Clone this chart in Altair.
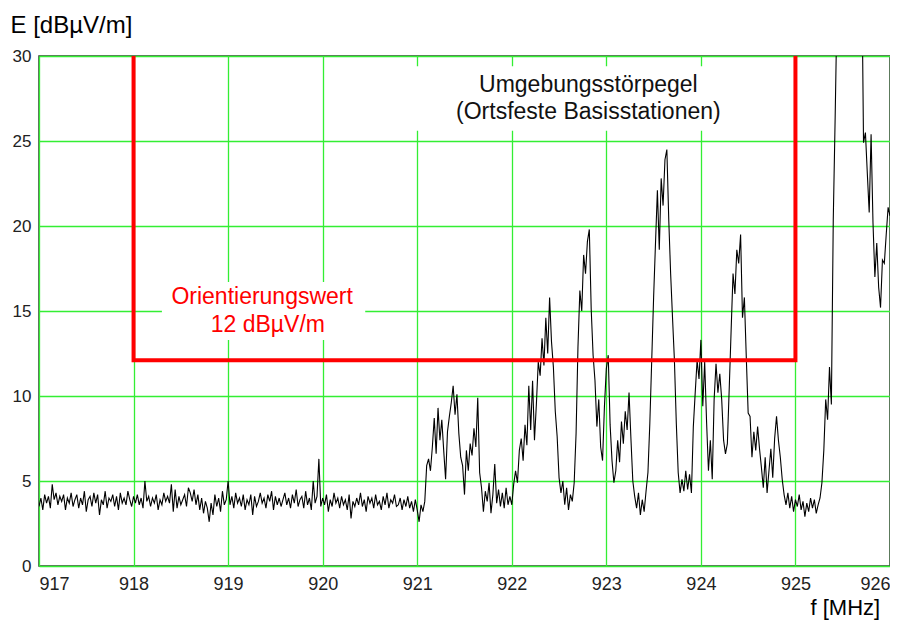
import altair as alt
import pandas as pd

# Measured field strength, 917.00 ... 926.00 MHz in 0.02 MHz steps
noise = [
    3.5, 4.0, 3.3, 4.2, 3.7, 4.1, 3.4, 4.8, 3.9, 4.3,
    3.6, 4.1, 3.8, 4.2, 3.3, 4.0, 3.7, 4.3, 3.5, 3.9,
    4.2, 3.4, 4.0, 3.6, 4.4, 3.2, 3.9, 4.1, 3.5, 4.3,
    3.7, 4.2, 3.0, 3.9, 3.6, 4.4, 3.4, 4.0, 3.8, 4.2,
    3.5, 4.1, 3.3, 4.3, 3.7, 4.0, 3.6, 4.4, 3.9, 3.5,
    4.1, 3.7, 4.2, 3.6, 4.0, 3.4, 5.0, 3.8, 4.1, 3.5,
    4.0, 3.7, 4.2, 3.3, 3.9, 3.6, 4.3, 3.8, 4.1, 3.7,
    4.8, 3.2, 4.5, 3.4, 4.1, 3.6, 3.9, 4.2, 3.5, 4.6,
    4.3, 3.8, 4.5, 3.6, 4.2, 3.3, 4.0, 3.1, 3.8, 3.4,
    2.6, 3.7, 3.0, 4.2, 3.5, 4.0, 3.2, 4.4, 3.6, 3.9,
    5.0, 3.6, 4.1, 3.4, 4.3, 3.7, 4.0, 3.5, 4.2, 3.3,
    3.9, 3.6, 4.2, 3.0, 4.1, 3.5, 3.8, 4.3, 3.7, 4.0,
    3.4, 4.2, 3.8, 4.4, 3.3, 4.1, 3.6, 4.0, 3.5, 3.9,
    4.3, 3.6, 4.0, 3.4, 4.2, 3.7, 4.5, 3.5, 3.9, 4.1,
    3.4, 4.4, 3.6, 4.0, 3.3, 5.0, 3.7, 4.1, 6.3, 3.5,
    4.0, 3.6, 4.2, 3.2, 3.9, 3.5, 4.3, 3.7, 4.0, 3.4,
    4.1, 3.6, 3.9, 3.3, 4.2, 2.8, 3.8, 3.5, 4.0, 3.6,
    4.3, 3.5, 3.9, 3.2, 4.1, 3.7, 4.0, 3.4, 4.2, 3.6,
    3.8, 3.3, 4.1, 3.6, 4.3, 3.4, 3.9, 3.7, 4.2, 3.5,
    3.6, 4.0, 3.3, 3.9, 3.5, 4.1, 3.4, 3.8, 3.2, 3.9,
    3.3, 2.6, 3.6, 3.2, 3.8,
]
signal = [
    5.9, 6.3, 5.6, 7.0, 8.7, 6.6, 9.3, 7.4, 8.6, 6.8,
    5.1, 7.9, 8.8, 9.6, 10.6, 8.9, 10.1, 7.8, 6.4, 5.9,
    4.2, 6.8, 5.6, 7.2, 6.5, 8.1, 7.0, 9.9, 5.5, 4.6,
    3.2, 4.4, 3.8, 4.9, 3.1, 4.2, 6.0, 3.7, 4.5, 3.5,
    4.3, 3.4, 4.6, 3.6, 4.1, 3.6, 4.8, 5.6, 4.9, 6.8,
    7.5, 6.2, 8.3, 7.1, 10.6, 8.0, 10.9, 7.4, 9.5, 12.0,
    11.2, 13.4, 11.8, 14.6, 12.5, 15.8, 13.2, 11.7, 9.1, 7.6,
    5.2, 4.3, 5.0, 3.6, 4.6, 3.3, 4.2, 3.8, 4.9, 7.8,
    12.9, 16.2, 15.0, 18.3, 17.2, 19.1, 19.8, 15.1, 12.4, 10.9,
    8.2, 9.8, 7.0, 6.2, 9.4, 11.6, 12.4, 8.3, 6.2, 4.9,
    5.6, 7.4, 6.1, 8.5, 7.2, 9.1, 8.0, 10.2, 7.5, 5.0,
    4.1, 3.4, 4.3, 3.0, 3.9, 3.2, 4.4, 5.5, 8.4, 12.1,
    15.8, 19.0, 22.1, 18.6, 22.8, 21.2, 23.9, 24.5, 20.4, 17.2,
    14.6, 12.1, 8.4, 5.5, 4.3, 5.1, 4.4, 5.6, 4.5, 5.4,
    4.3, 8.2, 10.2, 12.1, 11.0, 13.3, 9.4, 12.0, 8.5, 5.6,
    7.4, 5.1, 9.8, 11.9, 10.2, 11.3, 9.8, 7.4, 6.6, 7.2,
    10.5, 13.9, 17.2, 16.0, 18.6, 17.8, 19.5, 14.6, 15.8, 12.3,
    9.0, 8.8, 6.4, 7.9, 6.8, 8.2, 6.9, 5.8, 4.6, 6.4,
    4.3, 5.6, 6.9, 5.2, 7.5, 8.8, 7.4, 6.4, 5.1, 4.2,
    3.6, 4.3, 3.4, 4.1, 3.2, 3.9, 3.5, 4.2, 3.3, 3.8,
    2.9, 3.7, 3.2, 4.0, 3.4, 3.9, 3.1, 3.6, 4.0, 4.9,
    6.8, 9.8, 8.6, 11.7, 9.5, 20.4, 26.4, 33.0, 36.0, 36.0,
    36.0, 36.0, 36.0, 36.0, 36.0, 36.0, 36.0, 36.0, 36.0, 36.0,
    36.0, 24.9, 25.5, 23.1, 20.8, 25.4, 20.2, 17.0, 19.0, 16.4,
    15.2, 18.0, 17.8, 19.5, 21.1, 20.6,
]
E_values = noise + signal
f_start = 917.0
f_step = 0.02
freqs = [round(f_start + f_step * i, 2) for i in range(len(E_values))]

x_ticks = [917, 918, 919, 920, 921, 922, 923, 924, 925, 926]
y_ticks = [0, 5, 10, 15, 20, 25, 30]

# Orientation value box (918 .. 925 MHz, 12 dBuV/m)
box_f = [918, 918, 925, 925]
box_E = [30, 12.1, 12.1, 30]

label_lines = ["Umgebungsstörpegel", "(Ortsfeste Basisstationen)"]
label_f = [922.81, 922.81]
label_E = [28.3, 26.7]
red_lines = ["Orientierungswert", "12 dBµV/m"]
red_f = [919.36, 919.42]
red_E = [15.8, 14.15]

FONT = "Liberation Sans"
GRID = "#33ee33"

df = pd.DataFrame({"f": freqs, "E": E_values})
box_df = pd.DataFrame({"f": box_f, "E": box_E, "o": [0, 1, 2, 3]})
lab_df = pd.DataFrame({"f": label_f, "E": label_E, "t": label_lines})
red_df = pd.DataFrame({"f": red_f, "E": red_E, "t": red_lines})
bg_df = pd.DataFrame({"f": [920.88, 918.3], "f2": [924.6, 920.45],
                      "E": [25.6, 13.3], "E2": [29.4, 16.7]})

xs = alt.Scale(domain=[917, 926], nice=False, zero=False)
ys = alt.Scale(domain=[0, 30], nice=False)

x_axis = alt.Axis(
    values=x_ticks, format="d", grid=True, gridColor=GRID, gridWidth=1.3,
    ticks=False, domain=False, labelFlush=True, labelPadding=9,
    labelFont=FONT, labelFontSize=18, labelColor="#222",
    title="f [MHz]", titleFont=FONT, titleFontSize=22, titleFontWeight="normal",
    titleColor="black", titleX=771, titleY=48, titleAlign="left",
    titleBaseline="alphabetic", titleAnchor="start")
y_axis = alt.Axis(
    values=y_ticks, format="d", grid=True, gridColor=GRID, gridWidth=1.3,
    ticks=False, domain=False, labelPadding=8, labelFont=FONT,
    labelFontSize=17, labelColor="#222",
    title="E [dBµV/m]", titleFont=FONT, titleFontSize=24, titleFontWeight="normal",
    titleColor="black", titleAngle=0, titleX=-29, titleY=-24, titleAlign="left",
    titleBaseline="alphabetic")


def X():
    return alt.X("f:Q", scale=xs, axis=x_axis, title="f [MHz]")


def Y():
    return alt.Y("E:Q", scale=ys, axis=y_axis, title="E [dBµV/m]")


line = alt.Chart(df).mark_line(color="black", strokeWidth=1.1, clip=True).encode(
    x=X(), y=Y())

bg = alt.Chart(bg_df).mark_rect(color="white").encode(
    x=X(), x2="f2:Q", y=Y(), y2="E2:Q")

box = alt.Chart(box_df).mark_line(color="#ff0000", strokeWidth=4, clip=True,
                                  strokeJoin="miter").encode(
    x=X(), y=Y(), order="o:Q")

labels = alt.Chart(lab_df).mark_text(font=FONT, fontSize=23, color="#111",
                                     baseline="middle", align="center").encode(
    x=X(), y=Y(), text="t:N")

red_labels = alt.Chart(red_df).mark_text(font=FONT, fontSize=23, color="#ff0000",
                                         baseline="middle", align="center").encode(
    x=X(), y=Y(), text="t:N")

chart = alt.layer(line, bg, box, labels, red_labels).properties(
    width=851, height=510,
    autosize=alt.AutoSizeParams(type="none"),
    padding={"left": 31, "top": 48, "right": 0, "bottom": 54},
).configure_view(stroke="#333", strokeWidth=1.5)

chart.save("out.html", embed_options={"renderer": "svg", "actions": False})
